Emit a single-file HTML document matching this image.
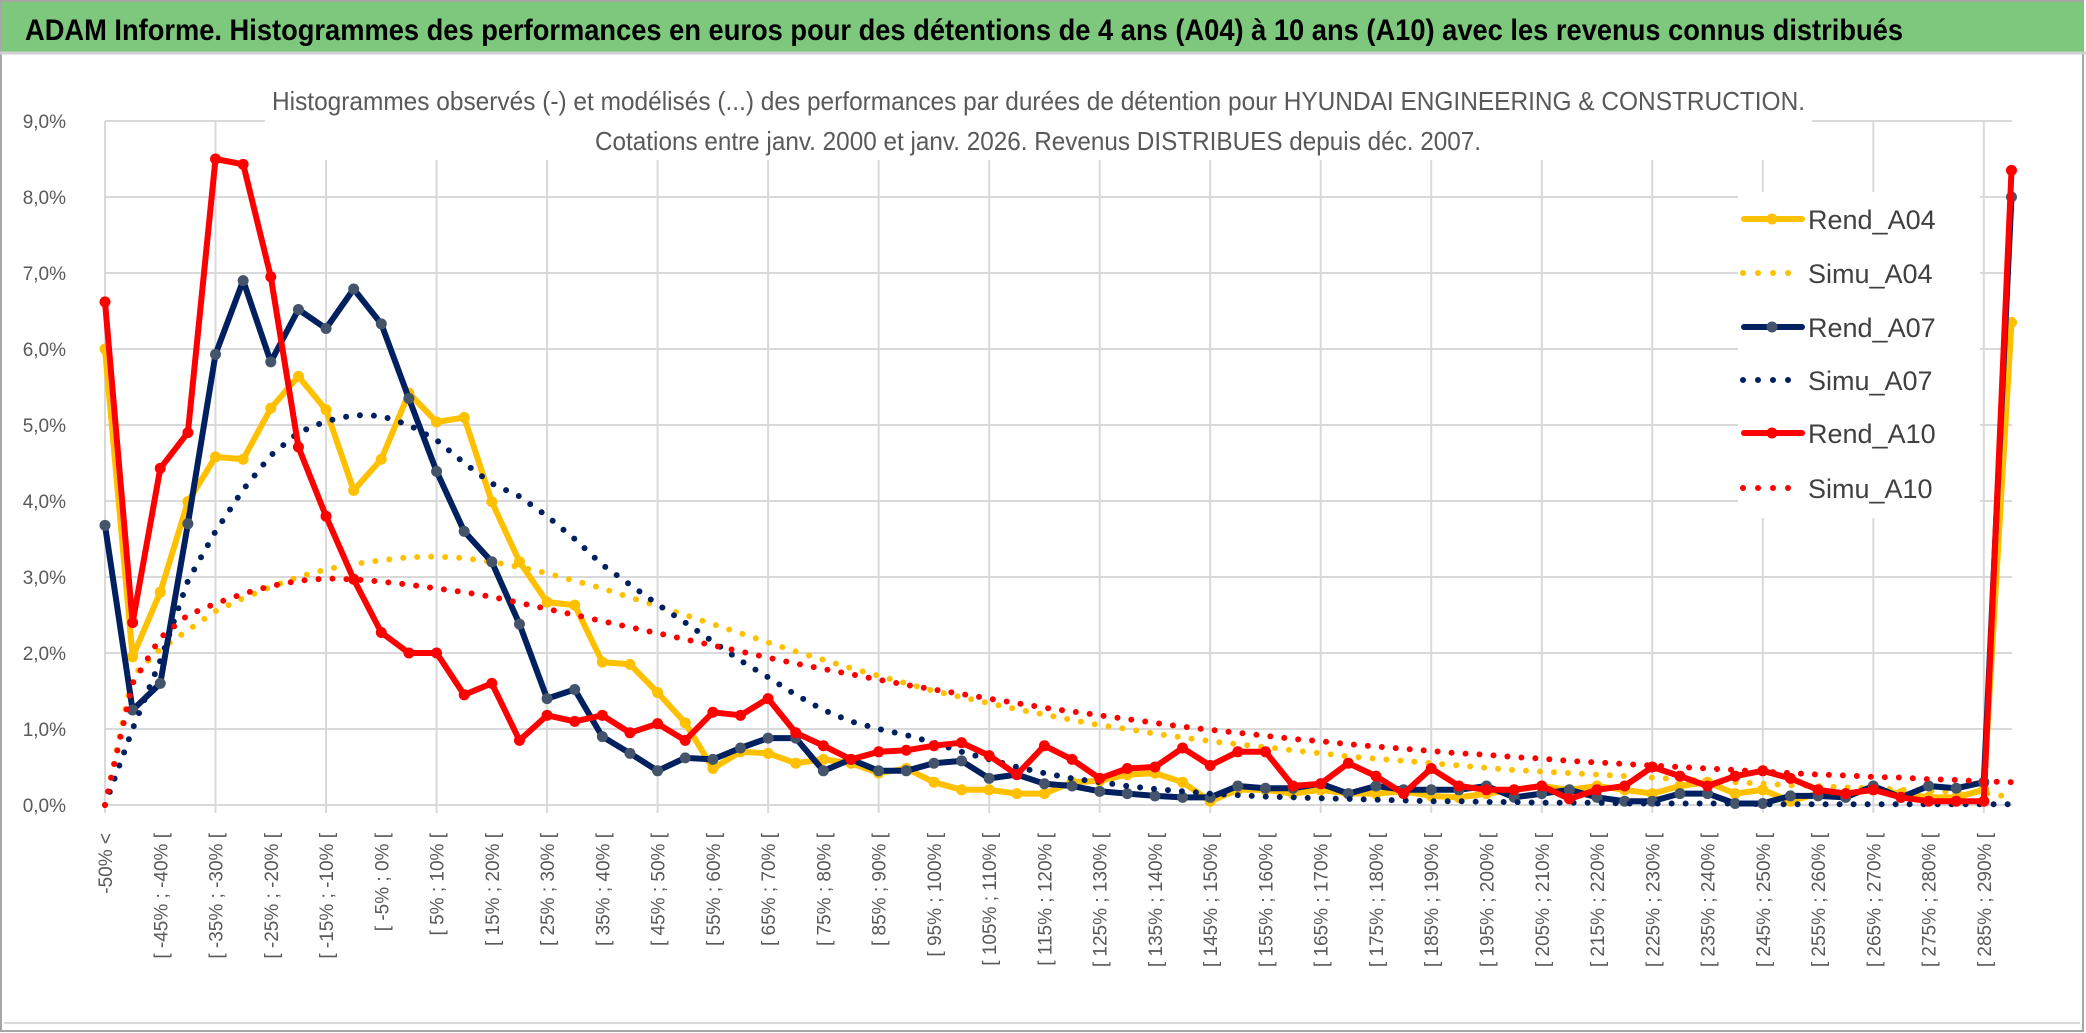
<!DOCTYPE html>
<html><head><meta charset="utf-8">
<style>
html,body{margin:0;padding:0;background:#fff;}
svg{display:block;font-family:"Liberation Sans",sans-serif;}
</style></head>
<body>
<svg id="chart" width="2086" height="1033" viewBox="0 0 2086 1033" xmlns="http://www.w3.org/2000/svg">
  <rect x="0" y="0" width="2086" height="1033" fill="#fff"/>
  <rect x="1" y="1" width="2082" height="1030" fill="none" stroke="#a6a6a6" stroke-width="2"/>
  <rect x="1" y="2" width="2082" height="50" fill="#7ec87e"/>
  <line x1="0" y1="53" x2="2086" y2="53" stroke="#d0d0d0" stroke-width="3"/>
  <text x="25" y="40" font-size="30" font-weight="bold" fill="#000" textLength="1878" lengthAdjust="spacingAndGlyphs">ADAM Informe. Histogrammes des performances en euros pour des détentions de 4 ans (A04) à 10 ans (A10) avec les revenus connus distribués</text>
  <line x1="4" y1="1023" x2="2080" y2="1023" stroke="#d9d9d9" stroke-width="2"/>
  <g id="grid"></g>
  <g id="yaxis"></g>
  <g id="xaxis"></g>
  <rect x="265" y="80" width="1547" height="80" fill="#fff"/>
  <text x="272" y="110" font-size="26" fill="#595959" textLength="1533" lengthAdjust="spacingAndGlyphs">Histogrammes observés (-) et modélisés (...) des performances par durées de détention pour HYUNDAI ENGINEERING &amp; CONSTRUCTION.</text>
  <text x="595" y="150" font-size="26" fill="#595959" textLength="886" lengthAdjust="spacingAndGlyphs">Cotations entre janv. 2000 et janv. 2026. Revenus DISTRIBUES depuis déc. 2007.</text>
  <rect x="1738" y="192" width="242" height="326" fill="#fff"/>
  <g id="series"></g>
  <g id="legend"></g>
</svg>
<script>
const categoriesStart = -50;
const yTickLabels = ["0,0%","1,0%","2,0%","3,0%","4,0%","5,0%","6,0%","7,0%","8,0%","9,0%"];
const yTickValues = [0,1,2,3,4,5,6,7,8,9];
const rendA04 = [6.0,1.95,2.8,3.99,4.58,4.55,5.22,5.64,5.2,4.14,
 4.55,5.42,5.04,5.1,3.99,3.2,2.67,2.63,1.88,1.85,
 1.48,1.08,0.48,0.7,0.68,0.55,0.6,0.55,0.42,0.48,
 0.3,0.2,0.2,0.15,0.15,0.3,0.32,0.4,0.42,0.3,
 0.05,0.2,0.2,0.15,0.2,0.15,0.15,0.18,0.12,0.1,
 0.15,0.2,0.25,0.2,0.25,0.2,0.15,0.25,0.3,0.15,
 0.2,0.05,0.15,0.15,0.2,0.15,0.1,0.1,0.2,6.35];
const simuA04 = [0,1.7,2.05,2.3,2.55,2.72,2.87,3.0,3.1,3.17,
 3.22,3.26,3.27,3.25,3.2,3.13,3.05,2.95,2.85,2.73,
 2.62,2.5,2.38,2.26,2.14,2.02,1.91,1.8,1.7,1.6,
 1.5,1.42,1.34,1.26,1.19,1.12,1.05,1.0,0.94,0.89,
 0.84,0.8,0.76,0.72,0.68,0.64,0.61,0.58,0.55,0.52,
 0.49,0.46,0.44,0.42,0.4,0.38,0.36,0.34,0.32,0.3,
 0.28,0.26,0.25,0.23,0.22,0.2,0.19,0.17,0.16,0.1];
const rendA07 = [3.68,1.25,1.6,3.7,5.93,6.9,5.83,6.52,6.27,6.79,
 6.33,5.35,4.39,3.6,3.2,2.38,1.4,1.52,0.9,0.68,
 0.45,0.62,0.6,0.75,0.88,0.88,0.45,0.6,0.45,0.45,
 0.55,0.58,0.35,0.4,0.28,0.25,0.18,0.15,0.12,0.1,
 0.1,0.25,0.22,0.22,0.28,0.15,0.25,0.2,0.2,0.2,
 0.25,0.1,0.15,0.2,0.1,0.05,0.05,0.15,0.15,0.02,
 0.02,0.12,0.12,0.1,0.25,0.1,0.25,0.22,0.3,8.0];
const simuA07 = [0,1.0,1.9,2.95,3.6,4.15,4.6,4.9,5.05,5.13,
 5.12,5.0,4.8,4.5,4.23,4.06,3.8,3.5,3.16,2.9,
 2.64,2.4,2.15,1.9,1.68,1.45,1.25,1.1,1.0,0.92,
 0.82,0.7,0.6,0.5,0.42,0.35,0.3,0.25,0.21,0.18,
 0.15,0.13,0.11,0.1,0.09,0.08,0.07,0.06,0.05,0.05,
 0.04,0.04,0.03,0.03,0.03,0.02,0.02,0.02,0.02,0.02,
 0.01,0.01,0.01,0.01,0.01,0.01,0.01,0.01,0.01,0.01];
const rendA10 = [6.62,2.4,4.43,4.9,8.5,8.43,6.95,4.71,3.8,2.97,
 2.27,2.0,2.0,1.45,1.6,0.85,1.18,1.1,1.18,0.95,
 1.07,0.85,1.22,1.18,1.4,0.95,0.78,0.6,0.7,0.72,
 0.78,0.82,0.65,0.4,0.78,0.6,0.35,0.48,0.5,0.75,
 0.52,0.7,0.7,0.25,0.28,0.55,0.38,0.15,0.48,0.25,
 0.2,0.2,0.25,0.08,0.2,0.25,0.5,0.38,0.25,0.38,
 0.45,0.35,0.2,0.15,0.2,0.1,0.05,0.05,0.05,8.35];
const simuA10 = [0,1.6,2.2,2.5,2.65,2.78,2.88,2.95,2.98,2.97,
 2.94,2.9,2.85,2.8,2.74,2.66,2.58,2.5,2.42,2.34,
 2.26,2.18,2.1,2.02,1.94,1.86,1.79,1.72,1.65,1.58,
 1.52,1.46,1.4,1.34,1.28,1.23,1.18,1.13,1.08,1.03,
 0.99,0.95,0.91,0.87,0.84,0.8,0.77,0.74,0.71,0.68,
 0.66,0.63,0.61,0.58,0.56,0.54,0.52,0.5,0.48,0.46,
 0.44,0.42,0.4,0.39,0.37,0.36,0.34,0.33,0.31,0.3];

const categories = [];
categories.push("-50% <");
for (let k = 1; k <= 68; k++) { const a = categoriesStart - 5 + 5*k; categories.push("[ " + a + "% ; " + (a+5) + "% ["); }
categories.push("> 290%");

const NS = "http://www.w3.org/2000/svg";
const X0 = 105, STEP = 27.63, Y0 = 805, YU = 76, XR = 2012;
const xs = i => X0 + i*STEP;
const ys = v => Y0 - v*YU;
function mk(tag, attrs, parent) {
  const e = document.createElementNS(NS, tag);
  for (const k in attrs) e.setAttribute(k, attrs[k]);
  parent.appendChild(e); return e;
}
const grid = document.getElementById('grid');
const yaxis = document.getElementById('yaxis');
const xaxis = document.getElementById('xaxis');
yTickValues.forEach((v, j) => {
  const l = mk('line', {x1: X0, y1: ys(v), x2: XR, y2: ys(v), stroke: '#d9d9d9', 'stroke-width': 2}, grid);
  
  
  const t = mk('text', {x: 66, y: ys(v) + 7, 'font-size': 19, fill: '#595959', 'text-anchor': 'end'}, yaxis);
  t.textContent = yTickLabels[j];
  
  
});
for (let i = 0; i < categories.length; i += 4) {
  const l = mk('line', {x1: xs(i), y1: ys(9), x2: xs(i), y2: Y0 + 8, stroke: '#d9d9d9', 'stroke-width': 2}, grid);
  
  
}
categories.forEach((c, i) => {
  if (i % 2 !== 0) return;
  const x = xs(i) + 7, y = 833;
  const t = mk('text', {x: x, y: y, 'font-size': 19, fill: '#595959', 'text-anchor': 'end', transform: 'rotate(-90 ' + x + ' ' + y + ')'}, xaxis);
  t.textContent = c;
  
  
});

const seriesDefs = [
  {name: 'Rend_A04', data: rendA04, color: '#ffc000', dotted: false, marker: '#ffc000'},
  {name: 'Simu_A04', data: simuA04, color: '#ffc000', dotted: true},
  {name: 'Rend_A07', data: rendA07, color: '#002060', dotted: false, marker: '#44546a'},
  {name: 'Simu_A07', data: simuA07, color: '#002060', dotted: true},
  {name: 'Rend_A10', data: rendA10, color: '#ff0000', dotted: false, marker: '#ff0000'},
  {name: 'Simu_A10', data: simuA10, color: '#ff0000', dotted: true}
];
const sg = document.getElementById('series');
const lg = document.getElementById('legend');
const legendY = [219, 273, 327, 380, 433, 488];
seriesDefs.forEach((s, k) => {
  const g = mk('g', {}, sg);
  
  
  const pts = s.data.map((v, i) => xs(i).toFixed(1) + ',' + ys(v).toFixed(1)).join(' ');
  const attrs = {points: pts, fill: 'none', stroke: s.color, 'stroke-linejoin': 'round', 'stroke-linecap': 'round'};
  if (s.dotted) { attrs['stroke-width'] = 6; attrs['stroke-dasharray'] = '0 14'; }
  else attrs['stroke-width'] = 6;
  const pl = mk('polyline', attrs, g);
  
  
  if (!s.dotted) {
    s.data.forEach((v, i) => {
      const c = mk('circle', {cx: xs(i), cy: ys(v), r: 5.5, fill: s.marker}, g);
      
      
    });
  }
  // legend
  const ly = legendY[k];
  const le = mk('g', {}, lg);
  
  
  if (s.dotted) {
    mk('line', {x1: 1743, y1: ly, x2: 1800, y2: ly, stroke: s.color, 'stroke-width': 6, 'stroke-dasharray': '0 15', 'stroke-linecap': 'round'}, le);
  } else {
    mk('line', {x1: 1744, y1: ly, x2: 1802, y2: ly, stroke: s.color, 'stroke-width': 6, 'stroke-linecap': 'round'}, le);
    mk('circle', {cx: 1772, cy: ly, r: 5.5, fill: s.marker}, le);
  }
  const t = mk('text', {x: 1808, y: ly + 10, 'font-size': 27, fill: '#404040'}, le);
  t.textContent = s.name;
});
</script>
</body></html>
